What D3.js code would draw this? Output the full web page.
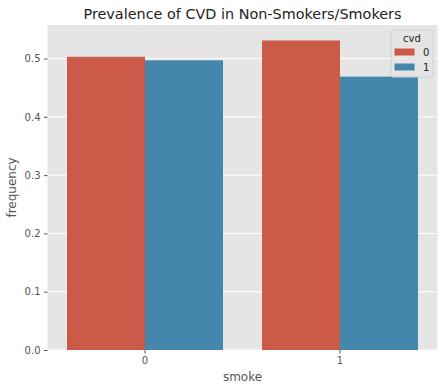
<!DOCTYPE html>
<html>
<head>
<meta charset="utf-8">
<script src="https://cdn.jsdelivr.net/npm/d3@7"></script>
<style>
  body { margin: 0; background: #fff; }
  text { font-family: "DejaVu Sans", sans-serif; }
</style>
</head>
<body>
<div id="contenedor"></div>
<script>
// datos
smoke = ["0", "1"]
cvd = ["0", "1"]
freq0 = [0.503, 0.531]   // cvd = 0
freq1 = [0.497, 0.469]   // cvd = 1
yTicks = [0.0, 0.1, 0.2, 0.3, 0.4, 0.5]

ancho = 444
alto = 391
m = {left: 47.5, right: 6.5, top: 25, bottom: 41}

colores = d3.scaleOrdinal().domain(cvd).range(["#cc5a49", "#4586ac"])

svg = d3.select("#contenedor")
    .append("svg")
    .attr("width", ancho)
    .attr("height", alto)

x0 = d3.scaleBand()
    .domain(smoke)
    .range([m.left, ancho - m.right])
    .paddingInner(0.2)
    .paddingOuter(0.1)

x1 = d3.scaleBand()
    .domain(cvd)
    .range([0, x0.bandwidth()])

escalaY = d3.scaleLinear()
    .domain([0, 0.531 * 1.05])
    .range([alto - m.bottom, m.top])

// fondo
svg.append("rect")
    .attr("x", m.left).attr("y", m.top)
    .attr("width", ancho - m.left - m.right)
    .attr("height", alto - m.top - m.bottom)
    .attr("fill", "#e5e5e5")

// rejilla horizontal
svg.append("g")
    .selectAll("line")
    .data(yTicks)
    .enter()
    .append("line")
    .attr("x1", m.left).attr("x2", ancho - m.right)
    .attr("y1", function(d) {return escalaY(d)})
    .attr("y2", function(d) {return escalaY(d)})
    .attr("stroke", "#fff")
    .attr("stroke-width", 1)

// barras
filas = []
smoke.forEach(function(s, i) {
    filas.push({smoke: s, cvd: "0", v: freq0[i]})
    filas.push({smoke: s, cvd: "1", v: freq1[i]})
})

svg.append("g")
    .selectAll("rect")
    .data(filas)
    .enter()
    .append("rect")
    .attr("x", function(d) {return x0(d.smoke) + x1(d.cvd)})
    .attr("width", x1.bandwidth())
    .attr("y", function(d) {return escalaY(d.v)})
    .attr("height", function(d) {return escalaY(0) - escalaY(d.v)})
    .attr("fill", function(d) {return colores(d.cvd)})

// ejes
ejeY = d3.axisLeft(escalaY)
    .tickValues(yTicks)
    .tickFormat(d3.format(".1f"))
    .tickSize(3.5)
    .tickPadding(3.5)

gy = svg.append("g")
    .attr("transform", "translate(" + m.left + ",0)")
    .call(ejeY)
gy.select(".domain").remove()
gy.selectAll("line").attr("stroke", "#555")
gy.selectAll("text").attr("fill", "#555").style("font-size", "10px")

ejeX = d3.axisBottom(x0)
    .tickSize(3.5)
    .tickPadding(3.5)

gx = svg.append("g")
    .attr("transform", "translate(0," + (alto - m.bottom) + ")")
    .call(ejeX)
gx.select(".domain").remove()
gx.selectAll("line").attr("stroke", "#555")
gx.selectAll("text").attr("fill", "#555").style("font-size", "10px")

// etiquetas
svg.append("text")
    .attr("x", (m.left + ancho - m.right) / 2)
    .attr("y", 381)
    .attr("text-anchor", "middle")
    .attr("fill", "#555")
    .style("font-size", "12px")
    .text("smoke")

svg.append("text")
    .attr("transform", "translate(16," + ((m.top + alto - m.bottom) / 2) + ") rotate(-90)")
    .attr("text-anchor", "middle")
    .attr("fill", "#555")
    .style("font-size", "12px")
    .text("frequency")

svg.append("text")
    .attr("x", (m.left + ancho - m.right) / 2)
    .attr("y", 19)
    .attr("text-anchor", "middle")
    .attr("fill", "#222")
    .style("font-size", "14.4px")
    .text("Prevalence of CVD in Non-Smokers/Smokers")

// leyenda
ley = svg.append("g").attr("transform", "translate(391,30)")
ley.append("rect")
    .attr("width", 42).attr("height", 47).attr("rx", 2)
    .attr("fill", "#e5e5e5").attr("fill-opacity", 0.8)
    .attr("stroke", "#d0d0d0")
ley.append("text")
    .attr("x", 21).attr("y", 12)
    .attr("text-anchor", "middle")
    .attr("fill", "#222")
    .style("font-size", "10px")
    .text("cvd")
cvd.forEach(function(c, i) {
    ley.append("rect")
        .attr("x", 3.5).attr("y", 18.5 + i * 15)
        .attr("width", 20).attr("height", 7)
        .attr("fill", colores(c))
    ley.append("text")
        .attr("x", 32).attr("y", 26 + i * 15)
        .attr("fill", "#222")
        .style("font-size", "10px")
        .text(c)
})
</script>
</body>
</html>
